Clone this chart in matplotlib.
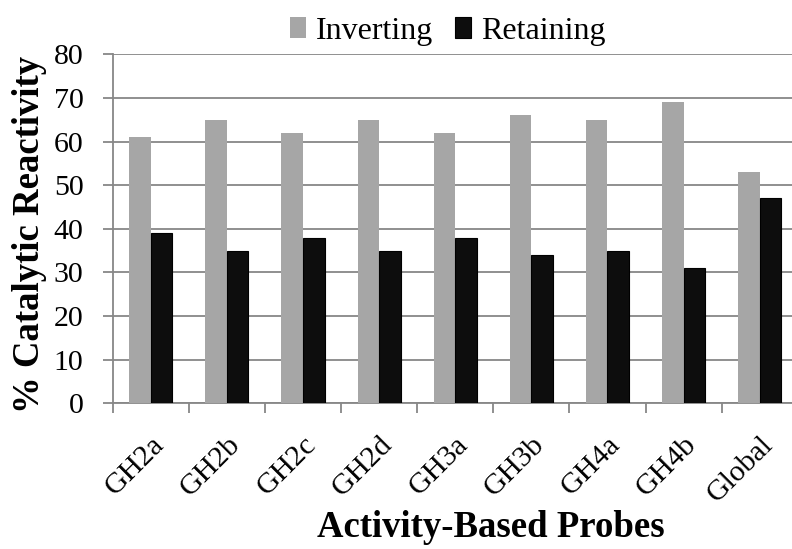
import numpy as np
import matplotlib
matplotlib.use('Agg')
import matplotlib.pyplot as plt
from matplotlib.ticker import FixedLocator

probes = ['GH2a', 'GH2b', 'GH2c', 'GH2d', 'GH3a', 'GH3b', 'GH4a', 'GH4b', 'Global']
inverting = [61, 65, 62, 65, 62, 66, 65, 69, 53]
retaining = [39, 35, 38, 35, 38, 34, 35, 31, 47]

plt.rcParams['font.family'] = ['Liberation Serif', 'DejaVu Serif']

fig = plt.figure(figsize=(7.92, 5.49), dpi=100)
ax = fig.add_axes([0.1423, 0.2654, 0.865, 0.6357])

x = np.arange(len(probes))
w = 0.283
ax.bar(x - w / 2, inverting, w, color='#a6a6a6', label='Inverting', zorder=3)
ax.bar(x + w / 2, retaining, w, color='#0d0d0d', edgecolor='#000000', linewidth=0.8,
       label='Retaining', zorder=3)

grid_col = '#878787'
ax.set_ylim(0, 80)
ax.set_xlim(-0.5, len(probes) - 0.5)
ax.set_yticks(np.arange(0, 81, 10))
ax.yaxis.grid(True, color=grid_col, linewidth=1.3, zorder=0)

# category labels at centres, tick marks at the boundaries
ax.set_xticks(x)
ax.set_xticklabels(probes, rotation=45, ha='right', rotation_mode='anchor', fontsize=21.5)
ax.xaxis.set_minor_locator(FixedLocator(np.arange(-0.5, len(probes), 1.0)))
ax.tick_params(axis='x', which='major', length=0, pad=20)
ax.tick_params(axis='x', which='minor', length=7, width=1.3, color=grid_col)
ax.tick_params(axis='y', length=7, width=1.3, color=grid_col, labelsize=21.5, pad=14)

for side in ['top', 'right']:
    ax.spines[side].set_visible(False)
for side in ['left', 'bottom']:
    ax.spines[side].set_color(grid_col)
    ax.spines[side].set_linewidth(1.3)

ax.set_ylabel('% Catalytic Reactivity', fontsize=26.5, fontweight='bold')
ax.yaxis.set_label_coords(-0.096, 0.485)
ax.set_xlabel('Activity-Based Probes', fontsize=26.5, fontweight='bold')
ax.xaxis.set_label_coords(0.552, -0.305)

ax.legend(loc='center', bbox_to_anchor=(0.489, 1.066),
          ncol=2, frameon=False, fontsize=23, handlelength=0.5, handleheight=0.6,
          handletextpad=0.3, columnspacing=0.7)

fig.savefig('out.png', dpi=100)
